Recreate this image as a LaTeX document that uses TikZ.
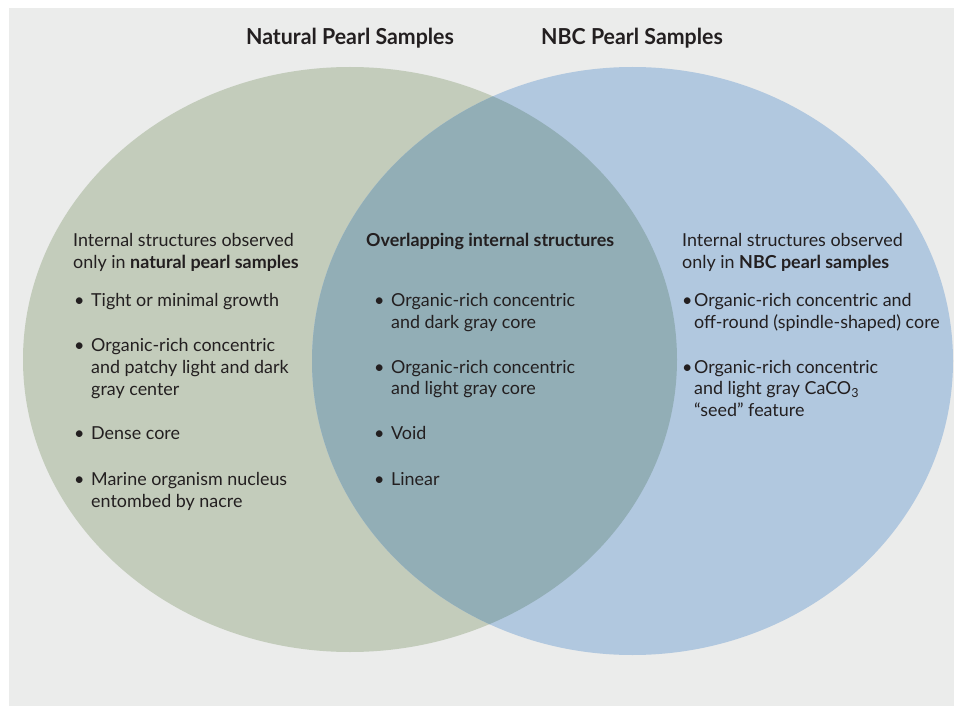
\documentclass[tikz,border=0pt]{standalone}
\usepackage{fontspec}
\setmainfont{Lato}
\definecolor{panelbg}{HTML}{EBECEB}
\definecolor{natgreen}{HTML}{C3CCBB}
\definecolor{nbcblue}{HTML}{B1C8DF}
\definecolor{overlapc}{HTML}{92AEB6}
\definecolor{inkc}{HTML}{231F20}
\tikzset{
  txt/.style={anchor=base west, inner sep=0pt, font=\fontsize{17.9}{21}\selectfont, text=inkc},
  ttl/.style={anchor=center, inner sep=0pt, font=\fontsize{22}{26}\selectfont\bfseries, text=inkc, xscale=0.97},
}
\newcommand{\bulA}{\makebox[17pt][l]{•}}
\newcommand{\bulB}{\makebox[12pt][l]{•}}
\begin{document}
\begin{tikzpicture}[x=1pt,y=-1pt]
\useasboundingbox (0,0) rectangle (954,706);
\fill[white] (0,0) rectangle (954,706);
\fill[panelbg] (9,8) rectangle (954,706);
% ellipses
\fill[natgreen] (350,359.5) ellipse [x radius=327, y radius=292.5];
\fill[nbcblue] (632.5,361) ellipse [x radius=320.5, y radius=294];
\begin{scope}
  \clip (350,359.5) ellipse [x radius=327, y radius=292.5];
  \fill[overlapc] (632.5,361) ellipse [x radius=320.5, y radius=294];
\end{scope}
% titles
\node[ttl] (tnat) at (350,38) {Natural Pearl Samples};
\node[ttl] (tnbc) at (632,38) {NBC Pearl Samples};
% left block
\node[txt] (l1) at (73,247) {Internal structures observed};
\node[txt] (l2) at (73,269) {only in \textbf{natural pearl samples}};
\node[txt] (l3) at (74,306) {\bulA Tight or minimal growth};
\node[txt] (l4) at (74,351) {\bulA Organic-rich concentric};
\node[txt] (l5) at (91,373) {and patchy light and dark};
\node[txt] (l6) at (91,395) {gray center};
\node[txt] (l7) at (74,439) {\bulA Dense core};
\node[txt] (l8) at (74,485) {\bulA Marine organism nucleus};
\node[txt] (l9) at (91,507) {entombed by nacre};
% middle block
\node[txt] (m1) at (366,247) {\textbf{Overlapping internal structures}};
\node[txt] (m2) at (374,306) {\bulA Organic-rich concentric};
\node[txt] (m3) at (391,328) {and dark gray core};
\node[txt] (m4) at (374,373) {\bulA Organic-rich concentric};
\node[txt] (m5) at (391,394) {and light gray core};
\node[txt] (m6) at (374,439) {\bulA Void};
\node[txt] (m7) at (374,485) {\bulA Linear};
% right block
\node[txt] (r1) at (682,247) {Internal structures observed};
\node[txt] (r2) at (682,269) {only in \textbf{NBC pearl samples}};
\node[txt] (r3) at (682,306) {\bulB Organic-rich concentric and};
\node[txt] (r4) at (694,328) {off-round (spindle-shaped) core};
\node[txt] (r5) at (682,373) {\bulB Organic-rich concentric};
\node[txt] (r6) at (694,394) {and light gray CaCO\textsubscript{3}};
\node[txt] (r7) at (694,416) {“seed” feature};
\end{tikzpicture}
\end{document}
